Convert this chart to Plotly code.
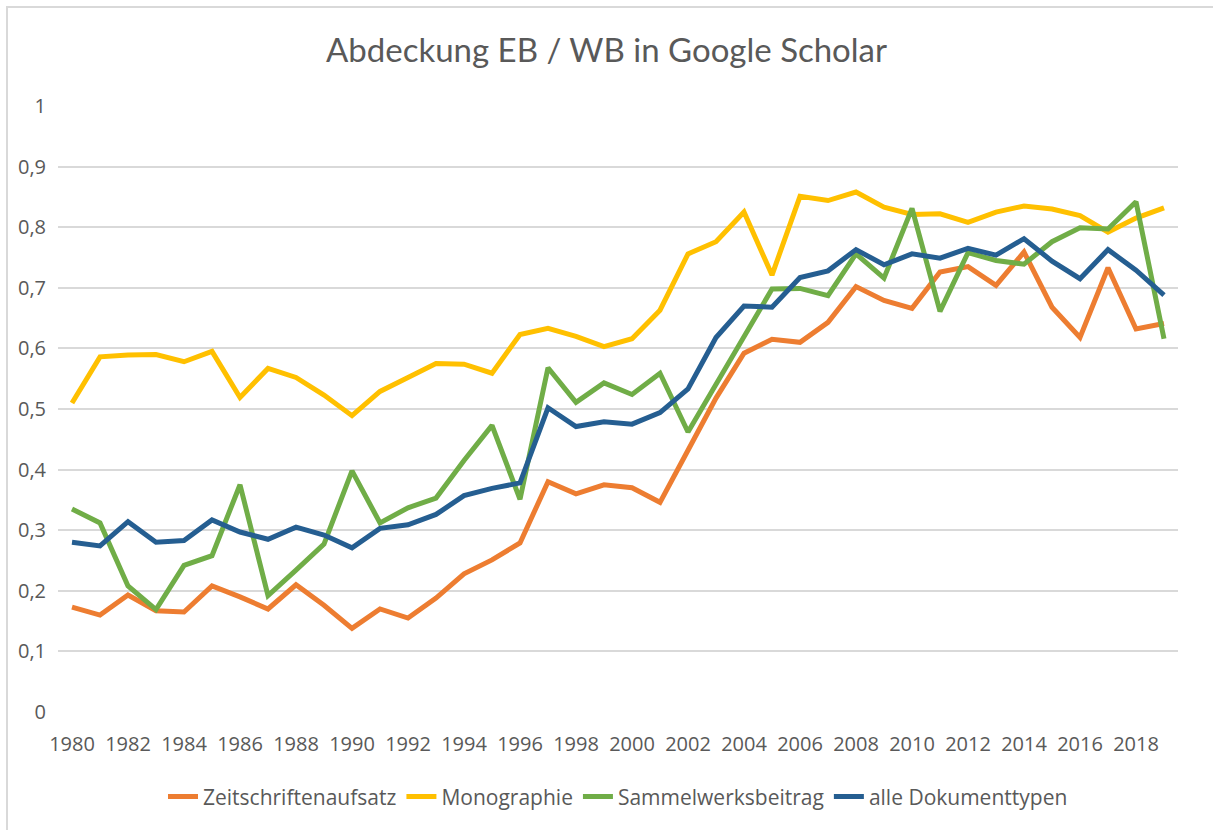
import plotly.graph_objects as go

years = list(range(1980, 2020))

zeitschriftenaufsatz = [0.173, 0.160, 0.193, 0.167, 0.165, 0.208, 0.190, 0.170, 0.210, 0.176,
                        0.138, 0.170, 0.155, 0.188, 0.228, 0.251, 0.279, 0.380, 0.360, 0.375,
                        0.370, 0.346, 0.432, 0.518, 0.592, 0.615, 0.610, 0.643, 0.702, 0.679,
                        0.666, 0.726, 0.735, 0.704, 0.759, 0.668, 0.618, 0.733, 0.632, 0.641]

monographie = [0.510, 0.586, 0.589, 0.590, 0.578, 0.595, 0.519, 0.567, 0.552, 0.523,
               0.489, 0.529, 0.552, 0.575, 0.574, 0.559, 0.623, 0.633, 0.620, 0.603,
               0.616, 0.663, 0.756, 0.776, 0.825, 0.721, 0.851, 0.844, 0.858, 0.833,
               0.821, 0.822, 0.808, 0.825, 0.835, 0.830, 0.819, 0.792, 0.815, 0.832]

sammelwerksbeitrag = [0.335, 0.312, 0.208, 0.169, 0.242, 0.258, 0.375, 0.192, 0.234, 0.277,
                      0.398, 0.312, 0.337, 0.353, 0.415, 0.473, 0.351, 0.568, 0.511, 0.543,
                      0.524, 0.559, 0.462, 0.542, 0.622, 0.698, 0.699, 0.687, 0.756, 0.716,
                      0.831, 0.661, 0.758, 0.745, 0.739, 0.776, 0.799, 0.797, 0.842, 0.616]

alle_dokumenttypen = [0.280, 0.274, 0.314, 0.280, 0.283, 0.317, 0.297, 0.285, 0.305, 0.292,
                      0.271, 0.303, 0.309, 0.326, 0.357, 0.369, 0.378, 0.502, 0.471, 0.479,
                      0.475, 0.494, 0.533, 0.618, 0.670, 0.668, 0.717, 0.728, 0.763, 0.738,
                      0.756, 0.749, 0.765, 0.754, 0.781, 0.744, 0.715, 0.763, 0.729, 0.688]

series_names = ["Zeitschriftenaufsatz", "Monographie", "Sammelwerksbeitrag", "alle Dokumenttypen"]
series_colors = ["#ED7D31", "#FFC000", "#70AD47", "#255E91"]

x_tickvals = list(range(1980, 2019, 2))
x_ticktext = [str(v) for v in x_tickvals]
y_tickvals = [0, 0.1, 0.2, 0.3, 0.4, 0.5, 0.6, 0.7, 0.8, 0.9, 1]
y_ticktext = ["0", "0,1", "0,2", "0,3", "0,4", "0,5", "0,6", "0,7", "0,8", "0,9", "1"]

title_text = "Abdeckung EB / WB in Google Scholar"

fig = go.Figure()
for name, vals, col in zip(series_names,
                           [zeitschriftenaufsatz, monographie, sammelwerksbeitrag, alle_dokumenttypen],
                           series_colors):
    fig.add_trace(go.Scatter(x=years, y=vals, mode="lines", name=name,
                             line=dict(color=col, width=5)))

fig.update_layout(
    width=1213, height=830,
    paper_bgcolor="white", plot_bgcolor="white",
    margin=dict(l=58, r=35, t=106, b=118),
    title=dict(text=title_text, x=0.5, xanchor="center", y=1 - 50 / 830, yanchor="middle",
               font=dict(family="Lato, Open Sans, sans-serif", size=33, color="#595959")),
    showlegend=True,
    legend=dict(orientation="h", x=0.5, xanchor="center", y=-0.14, yanchor="middle",
                font=dict(family="Open Sans, sans-serif", size=21, color="#595959"),
                itemwidth=30, traceorder="normal"),
    xaxis=dict(range=[1979.5, 2019.5], tickvals=x_tickvals, ticktext=x_ticktext,
               showgrid=False, zeroline=False, showline=False, ticks="", ticklabelstandoff=18,
               tickfont=dict(family="Open Sans, sans-serif", size=20, color="#595959")),
    yaxis=dict(range=[0, 1], tickvals=y_tickvals, ticktext=y_ticktext,
               showgrid=True, gridcolor="#D9D9D9", gridwidth=1.5,
               zeroline=False, showline=False, ticks="", ticklabelstandoff=11,
               tickfont=dict(family="Open Sans, sans-serif", size=20, color="#595959")),
)

fig.add_shape(type="rect", xref="paper", yref="paper",
              x0=(7 - 58) / 1120, x1=(1240 - 58) / 1120,
              y0=(712 - 860) / 606, y1=(712 - 7) / 606,
              line=dict(color="#D9D9D9", width=2), fillcolor="rgba(0,0,0,0)", layer="below")

fig.write_html("out.html", config={"displayModeBar": False},
               post_script="document.body.style.margin='0';")
